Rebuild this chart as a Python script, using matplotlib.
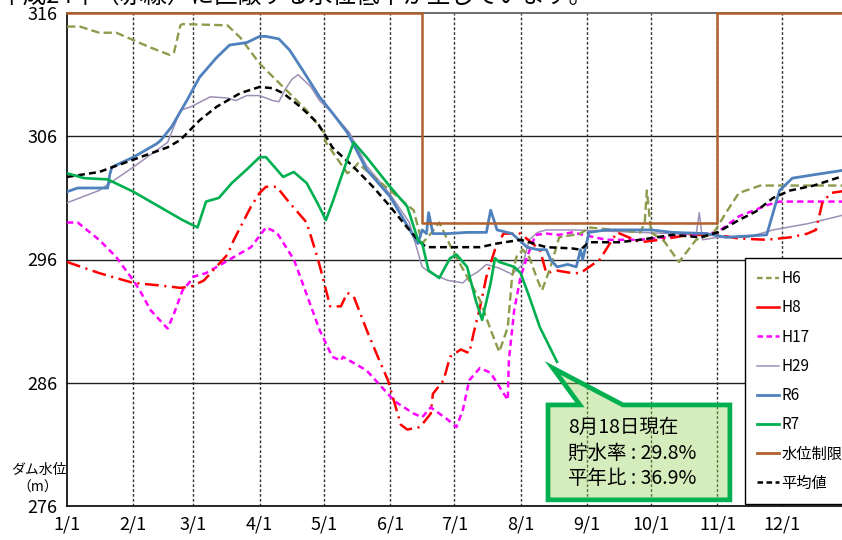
import matplotlib
matplotlib.use('Agg')
import matplotlib.pyplot as plt
from matplotlib.lines import Line2D
from matplotlib.patches import Polygon

plt.rcParams['font.family'] = ['Noto Sans CJK JP', 'DejaVu Sans']
plt.rcParams['lines.scale_dashes'] = False

# 月初 (1/1 からの日数)
month_days = [0, 31, 59, 90, 120, 151, 181, 212, 243, 273, 304, 334]
month_labels = ['1/1', '2/1', '3/1', '4/1', '5/1', '6/1', '7/1', '8/1', '9/1', '10/1', '11/1', '12/1']
y_ticks = [276, 286, 296, 306, 316]

# H6
h6_day = [0, 6, 15, 23, 31, 39, 48, 50, 53, 54, 75, 81, 90, 101, 112, 120, 121, 131, 133, 136,
          151, 162, 166, 170, 174, 180, 187, 193, 198, 202, 206, 208, 210, 213, 216, 220, 222,
          226, 230, 240, 244, 268, 270, 271, 273, 279, 286, 294, 302, 308, 314, 324, 365]
h6_lvl = [314.9, 314.9, 314.4, 314.4, 313.8, 313.2, 312.6, 312.8, 315.0, 315.1, 315.0, 314.0,
          311.9, 310.0, 308.1, 306.3, 305.5, 303.0, 303.2, 303.8, 301.6, 300.0, 297.3, 298.1,
          299.0, 296.8, 294.6, 292.7, 290.3, 288.5, 290.5, 294.6, 296.2, 296.8, 296.2, 294.3,
          293.5, 295.4, 297.8, 298.1, 298.6, 298.2, 299.0, 301.6, 298.2, 297.5, 295.8, 297.6,
          298.1, 299.8, 301.4, 302.0, 302.0]

# H8
h8_day = [0, 15, 31, 43, 53, 58, 64, 75, 78, 86, 90, 93, 98, 104, 112, 117, 119, 123, 128, 131,
          134, 140, 146, 150, 156, 159, 165, 170, 171, 176, 179, 184, 188, 190, 193, 196, 200,
          204, 212, 221, 224, 229, 236, 240, 249, 257, 268, 277, 291, 304, 314, 327, 338, 346,
          350, 353, 357, 365]
h8_lvl = [295.8, 294.9, 294.1, 293.9, 293.7, 293.8, 294.3, 296.4, 297.6, 300.3, 301.4, 301.9,
          301.9, 300.6, 299.0, 296.2, 294.9, 292.2, 292.2, 293.3, 293.0, 290.3, 287.8, 286.2,
          282.6, 282.2, 282.4, 283.5, 285.1, 286.2, 288.1, 288.7, 288.4, 290.0, 292.1, 294.6,
          296.8, 298.1, 298.1, 296.8, 294.9, 295.1, 294.9, 294.9, 296.0, 298.2, 297.4, 297.6,
          298.0, 298.0, 297.7, 297.6, 297.8, 298.1, 298.4, 300.6, 301.4, 301.6]

# H17
h17_day = [0, 5, 15, 23, 31, 34, 39, 47, 50, 54, 58, 59, 65, 78, 86, 93, 98, 106, 109, 118, 124,
           128, 129, 134, 140, 151, 154, 162, 166, 170, 178, 182, 185, 188, 193, 198, 202, 206,
           206.5, 209, 212, 215, 219, 224, 230, 236, 252, 268, 291, 304, 314, 327, 333, 365]
h17_lvl = [299.0, 299.0, 297.6, 296.2, 294.3, 293.5, 291.9, 290.4, 291.6, 293.5, 294.3, 294.6,
           294.9, 296.2, 297.0, 298.6, 298.2, 296.0, 294.6, 290.3, 288.1, 287.8, 288.1, 287.6,
           287.0, 284.9, 284.4, 283.5, 283.2, 284.0, 283.0, 282.4, 283.8, 286.2, 287.2, 286.8,
           285.7, 284.6, 287.8, 291.9, 294.6, 296.2, 298.0, 298.1, 298.0, 298.2, 297.6, 297.6,
           298.0, 298.2, 299.5, 300.4, 300.7, 300.7]

# H29
h29_day = [0, 15, 31, 47, 53, 58, 67, 75, 79, 84, 90, 96, 99, 102, 105, 108, 114, 118, 124, 132,
           140, 151, 160, 162, 166, 170, 178, 182, 185, 188, 192, 196, 202, 208, 213, 216, 220,
           224, 236, 268, 283, 294, 295.5, 297, 304, 318, 330, 346, 358, 365]
h29_lvl = [300.6, 301.6, 303.5, 305.5, 308.1, 308.4, 309.2, 309.1, 308.9, 309.3, 309.3, 308.9,
           308.8, 309.8, 310.6, 311.0, 310.0, 308.9, 307.9, 306.3, 303.6, 301.3, 299.0, 297.8,
           295.4, 294.9, 294.3, 294.2, 294.1, 294.6, 295.0, 295.6, 295.3, 294.8, 295.6, 297.6,
           298.2, 298.4, 298.4, 298.2, 298.1, 298.0, 299.8, 297.6, 297.8, 297.8, 298.4, 298.9,
           299.4, 299.7]

# R6
r6_day = [0, 5, 19, 20, 21, 31, 42, 44, 49, 56, 62, 70, 76, 84, 90, 93, 99, 104, 110, 118, 124,
          131, 140, 151, 164, 166, 168, 169, 171, 178, 187, 196, 198, 201, 208, 215, 220, 224,
          226, 229, 234, 238, 240, 241, 244, 252, 273, 283, 299, 308, 327, 330, 333, 339, 350, 365]
r6_lvl = [301.5, 301.8, 301.8, 302.9, 303.5, 304.3, 305.4, 305.7, 306.8, 308.9, 310.8, 312.4,
          313.4, 313.6, 314.1, 314.1, 313.9, 313.0, 311.4, 309.2, 307.9, 306.3, 303.3, 301.1,
          297.3, 298.4, 298.1, 299.8, 298.1, 298.1, 298.2, 298.2, 300.0, 298.4, 298.1, 297.0,
          296.8, 296.8, 296.0, 295.4, 295.6, 295.4, 296.8, 296.0, 298.2, 298.4, 298.4, 298.2,
          298.1, 297.8, 298.0, 299.8, 301.6, 302.6, 302.9, 303.3]

# R7 (8/18 まで)
r7_day = [0, 8, 19, 31, 43, 54, 61, 65, 71, 77, 84, 90, 93, 101, 106, 112, 117, 121, 124, 131,
          134, 140, 151, 159, 164, 166, 169, 174, 179, 182, 187, 191, 194, 198, 200, 202, 209,
          212, 216, 221, 229]
r7_lvl = [303.0, 302.6, 302.5, 301.5, 300.3, 299.2, 298.6, 300.7, 301.0, 302.2, 303.3, 304.3,
          304.3, 302.7, 303.1, 302.2, 300.6, 299.2, 300.6, 304.1, 305.5, 304.3, 301.9, 300.3,
          297.6, 297.3, 295.1, 294.5, 296.1, 296.4, 295.4, 292.7, 291.1, 294.1, 296.1, 295.8,
          295.4, 294.9, 293.0, 290.5, 287.7]

# 平均値
avg_day = [0, 15, 31, 47, 53, 62, 70, 81, 90, 96, 101, 109, 117, 121, 124, 134, 143, 151, 159,
           165, 168, 178, 193, 201, 212, 218, 224, 236, 240, 244, 258, 268, 283, 296, 304, 314,
           322, 330, 338, 349, 365]
avg_lvl = [302.7, 303.1, 304.1, 305.1, 305.7, 307.3, 308.4, 309.5, 310.0, 309.9, 309.5, 308.4,
           307.1, 306.0, 305.1, 303.5, 301.9, 300.3, 298.6, 297.4, 297.0, 297.0, 297.0, 297.3,
           297.6, 297.3, 297.0, 296.9, 296.8, 297.4, 297.4, 297.6, 298.0, 297.8, 298.2, 299.2,
           299.9, 301.0, 301.6, 302.0, 302.9]

# 水位制限
lim_day = [0, 166, 166, 304, 304, 365]
lim_lvl = [316, 316, 299, 299, 316, 316]

c_h6 = '#8c9c4c'
c_h8 = '#ff0000'
c_h17 = '#ff00ff'
c_h29 = '#9e8fb6'
c_r6 = '#4f81bd'
c_r7 = '#00b050'
c_lim = '#b0602a'

fig = plt.figure(figsize=(8.42, 5.40), dpi=100)
ax = fig.add_axes([67 / 842, 34 / 540, (848 - 67) / 842, 493 / 540])
ax.set_xlim(0, 365)
ax.set_ylim(276, 316)

# グリッド
for d in month_days[1:]:
    ax.axvline(d, color='#333333', lw=1.0, ls=(0, (2, 1.5)), zorder=1)
for v in [286, 296, 306]:
    ax.axhline(v, color='#222222', lw=1.0, zorder=1)

ax.plot(h29_day, h29_lvl, color=c_h29, lw=1.1, zorder=3)
ax.plot(h17_day, h17_lvl, color=c_h17, lw=1.8, dashes=(4.5, 3), zorder=3)
ax.plot(h8_day, h8_lvl, color=c_h8, lw=1.8, dashes=(10, 4, 1.5, 4), zorder=3)
ax.plot(h6_day, h6_lvl, color=c_h6, lw=1.7, dashes=(6, 3), zorder=3)
ax.plot(r6_day, r6_lvl, color=c_r6, lw=2.0, zorder=4)
ax.plot(avg_day, avg_lvl, color='black', lw=1.8, dashes=(5, 3), zorder=4)
ax.plot(r7_day, r7_lvl, color=c_r7, lw=1.9, zorder=5)
ax.plot(lim_day, lim_lvl, color=c_lim, lw=1.8, zorder=6, clip_on=False)

for s in ['left', 'bottom']:
    ax.spines[s].set_color('black')
    ax.spines[s].set_linewidth(1.2)
ax.spines['top'].set_color('#555555')
ax.spines['top'].set_linewidth(1.2)
ax.spines['right'].set_visible(False)

ax.set_xticks(month_days)
ax.set_xticklabels(month_labels, fontsize=13)
ax.set_yticks(y_ticks)
ax.set_yticklabels([str(v) for v in y_ticks], fontsize=13)
ax.tick_params(axis='both', length=0)
ax.tick_params(axis='x', pad=7)
ax.tick_params(axis='y', pad=7)

fig.text(67 / 842, 1 - 470 / 540, 'ダム水位', fontsize=10, ha='right', va='center')
fig.text(38 / 842, 1 - 488 / 540, '（m）', fontsize=10, ha='center', va='center')

# 上部の見切れた見出し
fig.text(0.0, 1 + 4 / 540, '平成24年（赤線）に匹敵する水位低下が生じています。',
         fontsize=17, ha='left', va='center')

# 凡例
handles = [
    Line2D([], [], color=c_h6, lw=1.7, dashes=(4, 2.5)),
    Line2D([], [], color=c_h8, lw=1.8),
    Line2D([], [], color=c_h17, lw=1.8, dashes=(4, 2.5)),
    Line2D([], [], color=c_h29, lw=1.1),
    Line2D([], [], color=c_r6, lw=2.0),
    Line2D([], [], color=c_r7, lw=2.0),
    Line2D([], [], color=c_lim, lw=2.0),
    Line2D([], [], color='black', lw=1.8, dashes=(4, 2.5)),
]
names = ['H6', 'H8', 'H17', 'H29', 'R6', 'R7', '水位制限', '平均値']
leg = fig.legend(handles, names, loc='upper left', bbox_to_anchor=(745 / 842, 1 - 258 / 540),
                 bbox_transform=fig.transFigure, fontsize=11, frameon=True, fancybox=False,
                 framealpha=1, edgecolor='black', borderpad=0.8, borderaxespad=0,
                 handlelength=1.4, handletextpad=0.2, labelspacing=0.8)
leg.get_frame().set_linewidth(1.0)
leg.set_zorder(10)

# 吹き出し
callout = Polygon([(224.8, 284.2), (239.7, 284.2), (227.0, 287.2), (259.8, 284.2),
                   (309.8, 284.2), (309.8, 276.5), (224.8, 276.5)],
                  closed=True, facecolor=(0.57, 0.82, 0.31, 0.38), edgecolor=c_r7,
                  lw=3.4, joinstyle='miter', zorder=7, clip_on=False)
ax.add_patch(callout)
ax.text(234, 282.4, '8月18日現在', fontsize=14, ha='left', va='center', zorder=8)
ax.text(234, 280.3, '貯水率 : 29.8%', fontsize=14, ha='left', va='center', zorder=8)
ax.text(234, 278.2, '平年比 : 36.9%', fontsize=14, ha='left', va='center', zorder=8)

plt.savefig('out.png', dpi=100)
